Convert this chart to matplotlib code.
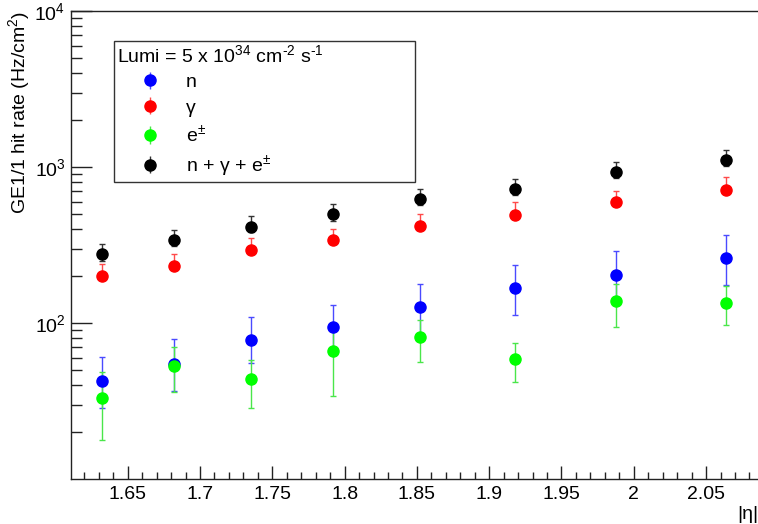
import matplotlib
matplotlib.use("Agg")
import matplotlib.pyplot as plt
from matplotlib.lines import Line2D
from matplotlib.ticker import MultipleLocator, FormatStrFormatter
from matplotlib.legend_handler import HandlerErrorbar

plt.rcParams['font.family'] = ['Liberation Sans', 'DejaVu Sans']
plt.rcParams['mathtext.fontset'] = 'custom'
plt.rcParams['mathtext.rm'] = 'Liberation Sans'
plt.rcParams['mathtext.it'] = 'Liberation Sans:italic'
plt.rcParams['mathtext.bf'] = 'Liberation Sans:bold'

# |eta| of each GE1/1 eta partition
eta = [1.632, 1.682, 1.735, 1.792, 1.852, 1.918, 1.988, 2.064]

# neutrons
rate_n = [42.7, 54.8, 77.3, 93.7, 126.6, 167.5, 204, 261]
err_n_up = [17.5, 24.5, 31.7, 37.3, 51.4, 66.5, 84, 103]
err_n_lo = [14.2, 18.4, 22, 31, 42, 55.5, 68, 87]

# photons
rate_g = [201, 233, 292, 338, 416, 494, 593, 715]
err_g_up = [39, 45, 57, 64, 81, 99, 112, 142]
err_g_lo = [0, 0, 0, 0, 0, 0, 0, 0]

# electrons / positrons
rate_e = [33.0, 52.7, 44.0, 65.8, 81.3, 58.8, 137.5, 134.4]
err_e_up = [15.2, 17.1, 14.2, 31.7, 23.7, 15.7, 40.5, 37.5]
err_e_lo = [15.3, 16.6, 15.5, 32.0, 25.1, 16.9, 43.2, 37.9]

# sum
rate_tot = [277, 342, 412, 500, 624, 723, 929, 1102]
err_tot_up = [44, 54, 70, 80, 99, 114, 148, 175]
err_tot_lo = [29, 29, 29, 52, 51, 59, 80, 83]

labels = ['n', 'γ', 'e$^{\\pm}$', 'n + γ + e$^{\\pm}$']

fig = plt.figure(figsize=(7.58, 5.24), dpi=100)
ax = fig.add_axes([71 / 758, 45 / 524, 687 / 758, 468 / 524])

style = dict(fmt='o', markersize=8, capsize=2.5, elinewidth=1.0, capthick=1.0)


def draw(y, lo, up, col, ecol):
    return ax.errorbar(eta, y, yerr=[lo, up], color=col, ecolor=ecol,
                       markeredgecolor=col, **style)


h_n = draw(rate_n, err_n_lo, err_n_up, '#0000ff', '#4a4aff')
h_g = draw(rate_g, err_g_lo, err_g_up, '#ff0000', '#ff4a4a')
h_e = draw(rate_e, err_e_lo, err_e_up, '#00ff00', '#4ae64a')
h_t = draw(rate_tot, err_tot_lo, err_tot_up, 'black', '#333333')

ax.set_yscale('log')
ax.set_xlim(1.6108, 2.0859)
ax.set_ylim(10, 1e4)
ax.set_yticks([1e2, 1e3, 1e4])

ax.xaxis.set_major_locator(MultipleLocator(0.05))
ax.xaxis.set_minor_locator(MultipleLocator(0.01))
ax.xaxis.set_major_formatter(FormatStrFormatter('%g'))

ax.tick_params(axis='both', which='both', direction='in', top=False, right=False,
               labelsize=14, width=1, color='#222222')
ax.tick_params(axis='y', which='major', length=14.9, pad=4)
ax.tick_params(axis='y', which='minor', length=7.7)
ax.tick_params(axis='x', which='major', length=9.6, pad=5)
ax.tick_params(axis='x', which='minor', length=4.8)
ax.spines['right'].set_visible(False)
for s in ['left', 'bottom', 'top']:
    ax.spines[s].set_linewidth(1)
    ax.spines[s].set_color('#222222')

ax.set_ylabel('GE1/1 hit rate (Hz/cm$^{2}$)', fontsize=14, loc='top', labelpad=2)
ax.set_xlabel('|η|', fontsize=14, loc='right', labelpad=2)

leg = ax.legend([h_n, h_g, h_e, h_t], labels,
                title='Lumi = 5 x 10$^{34}$ cm$^{\u20102}$ s$^{\u20101}$',
                title_fontsize=14, fontsize=14, alignment='left',
                loc='upper left', bbox_to_anchor=(0.0626, 0.936, 0.438, 0),
                mode='expand', frameon=True, fancybox=False, shadow=False,
                borderpad=0.15, handlelength=3.4, handletextpad=0.15,
                labelspacing=0.4, borderaxespad=0,
                handler_map={type(h_n): HandlerErrorbar(yerr_size=0.45)})
leg.get_frame().set_edgecolor('black')
leg.get_frame().set_linewidth(1)
# no caps on the legend symbols
for ln in leg.findobj(Line2D):
    if ln.get_marker() == '_':
        ln.set_visible(False)

plt.savefig('out.png', dpi=100)
